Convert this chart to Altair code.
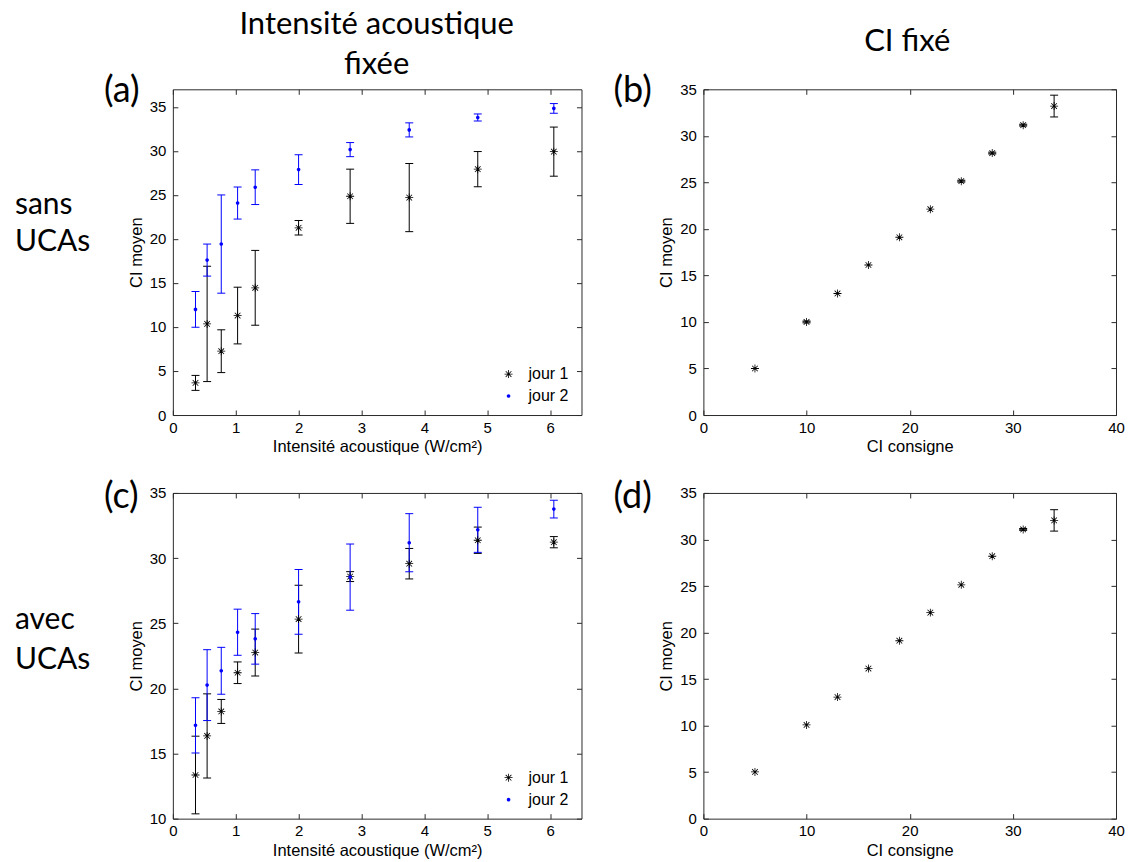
import math
import altair as alt
import pandas as pd

# ---------------- data ----------------
intensite = [0.36, 0.545, 0.77, 1.03, 1.31, 2.0, 2.82, 3.76, 4.85, 6.06]

a_j1_moy = [3.65, 10.35, 7.25, 11.3, 14.45, 21.27, 24.85, 24.7, 27.93, 29.92]
a_j1_err = [0.85, 6.55, 2.43, 3.22, 4.25, 0.82, 3.08, 3.87, 2.0, 2.79]
a_j2_moy = [12.0, 17.6, 19.42, 24.08, 25.88, 27.88, 30.15, 32.39, 33.8, 34.83]
a_j2_err = [2.03, 1.82, 5.58, 1.82, 1.97, 1.69, 0.8, 0.8, 0.4, 0.55]

c_j1_moy = [13.35, 16.35, 18.23, 21.2, 22.75, 25.32, 28.58, 29.57, 31.37, 31.22]
c_j1_err = [2.98, 3.23, 0.92, 0.83, 1.8, 2.6, 0.38, 1.17, 1.01, 0.43]
c_j2_moy = [17.16, 20.25, 21.35, 24.31, 23.8, 26.64, 28.54, 31.18, 32.17, 33.76]
c_j2_err = [2.12, 2.72, 1.8, 1.77, 1.94, 2.49, 2.54, 2.23, 1.73, 0.68]

consigne = [5, 10, 13, 16, 19, 22, 25, 28, 31, 34]
b_moy = [5.0, 10.0, 13.06, 16.12, 19.1, 22.12, 25.13, 28.15, 31.15, 33.2]
b_err = [0.0, 0.1, 0.0, 0.0, 0.0, 0.0, 0.1, 0.1, 0.1, 1.17]
d_moy = [5.02, 10.07, 13.07, 16.13, 19.12, 22.14, 25.13, 28.2, 31.08, 32.05]
d_err = [0.0, 0.0, 0.0, 0.0, 0.0, 0.0, 0.0, 0.0, 0.1, 1.15]

series = ["jour 1", "jour 2"]
x_ticks_int = [0, 1, 2, 3, 4, 5, 6]
x_ticks_ci = [0, 10, 20, 30, 40]
y_ticks_0 = [0, 5, 10, 15, 20, 25, 30, 35]
y_ticks_10 = [10, 15, 20, 25, 30, 35]

# ---------------- styles ----------------
BLACK = "#000000"
BLUE = "#0000ff"
FRAME = "#2a2a2a"
AX_FONT = "Liberation Sans"
TXT_FONT = "Lato"


def _star_path(t=0.1):
    plus = [(-1, -t), (-t, -t), (-t, -1), (t, -1), (t, -t), (1, -t),
            (1, t), (t, t), (t, 1), (-t, 1), (-t, t), (-1, t)]
    c = math.sqrt(0.5)
    rot = [((x - y) * c, (x + y) * c) for x, y in plus]

    def poly(pts):
        return "M" + "L".join(f"{x:.3f},{y:.3f}" for x, y in pts) + "Z"
    return poly(plus) + poly(rot)


STAR = _star_path()
DOT = "M0.45,0A0.45,0.45 0 1,1 -0.45,0A0.45,0.45 0 1,1 0.45,0Z"


def make_df(xs, moy, err, serie):
    return pd.DataFrame({
        "x": xs, "moy": moy,
        "lo": [m - e for m, e in zip(moy, err)],
        "hi": [m + e for m, e in zip(moy, err)],
        "err": err, "serie": serie,
    })


def x_axis(values, title, H):
    return alt.Axis(values=values, title=title, grid=True, gridDash=[5, H - 10, 5],
                    ticks=False, tickSize=0, domain=False, labelPadding=5,
                    titlePadding=4, labelFlush=False, labelOverlap=False)


def y_axis(values, W):
    return alt.Axis(values=values, title="CI moyen", grid=True, gridDash=[5, W - 10, 5],
                    ticks=False, tickSize=0, domain=False, labelPadding=7,
                    titlePadding=5, labelFlush=False, labelOverlap=False)


def text_layer(txt, x, y, size, align="left"):
    return alt.Chart(pd.DataFrame({"t": [txt]})).mark_text(
        font=TXT_FONT, fontSize=size, align=align, baseline="alphabetic",
        color=BLACK).encode(x=alt.value(x), y=alt.value(y), text="t:N")


def legend_def():
    return alt.Legend(title=None, orient="none", legendX=328, legendY=277,
                      labelFont=AX_FONT, labelFontSize=16, symbolSize=64,
                      labelOffset=12, rowPadding=6, padding=0,
                      symbolStrokeWidth=0)


def panel(dfs, colors, xdom, ydom, xvals, yvals, xtitle, W, H, with_legend, texts):
    xs = alt.Scale(domain=xdom, nice=False, zero=False)
    ys = alt.Scale(domain=ydom, nice=False, zero=False)
    xa = x_axis(xvals, xtitle, H)
    ya = y_axis(yvals, W)
    layers = []
    for df, col in zip(dfs, colors):
        eb = alt.Chart(df).transform_filter("datum.err > 0")
        layers.append(eb.mark_rule(color=col, strokeWidth=1).encode(
            x=alt.X("x:Q", scale=xs, axis=xa),
            y=alt.Y("lo:Q", scale=ys, axis=ya),
            y2="hi:Q"))
        for f in ["lo", "hi"]:
            layers.append(eb.mark_tick(color=col, orient="horizontal", size=8,
                                       thickness=1, opacity=1).encode(
                x=alt.X("x:Q", scale=xs, axis=xa),
                y=alt.Y(f + ":Q", scale=ys, axis=ya)))
    pts = pd.concat(dfs)
    if with_legend:
        color = alt.Color("serie:N", scale=alt.Scale(domain=series, range=[BLACK, BLUE]),
                          legend=legend_def())
        shape = alt.Shape("serie:N", scale=alt.Scale(domain=series, range=[STAR, DOT]),
                          legend=legend_def())
        layers.append(alt.Chart(pts).mark_point(filled=True, size=64, opacity=1,
                                                strokeWidth=0).encode(
            x=alt.X("x:Q", scale=xs, axis=xa),
            y=alt.Y("moy:Q", scale=ys, axis=ya),
            color=color, shape=shape))
    else:
        layers.append(alt.Chart(pts).mark_point(filled=True, size=64, opacity=1,
                                                strokeWidth=0, shape=STAR,
                                                color=BLACK).encode(
            x=alt.X("x:Q", scale=xs, axis=xa),
            y=alt.Y("moy:Q", scale=ys, axis=ya)))
    for t in texts:
        layers.append(text_layer(*t))
    return alt.layer(*layers).properties(width=W, height=H)


WA, WB, H = 409, 413, 326

pa = panel([make_df(intensite, a_j1_moy, a_j1_err, "jour 1"),
            make_df(intensite, a_j2_moy, a_j2_err, "jour 2")],
           [BLACK, BLUE], [0, 6.5], [0, 37], x_ticks_int, y_ticks_0,
           "Intensité acoustique (W/cm²)", WA, H, True,
           [("Intensité acoustique", 204, -55, 31, "center"),
            ("fixée", 204, -15, 31, "center"),
            ("(a)", -69, 13, 36),
            ("sans", -158, 125, 30),
            ("UCAs", -158, 162, 30)])

pb = panel([make_df(consigne, b_moy, b_err, "jour 1")], [BLACK],
           [0, 40], [0, 35], x_ticks_ci, y_ticks_0, "CI consigne", WB, H, False,
           [("CI fixé", 204, -38, 31, "center"),
            ("(b)", -90, 13, 36)])

pc = panel([make_df(intensite, c_j1_moy, c_j1_err, "jour 1"),
            make_df(intensite, c_j2_moy, c_j2_err, "jour 2")],
           [BLACK, BLUE], [0, 6.5], [10, 35], x_ticks_int, y_ticks_10,
           "Intensité acoustique (W/cm²)", WA, H, True,
           [("(c)", -69, 15, 36),
            ("avec", -158, 136, 30),
            ("UCAs", -158, 176, 30)])

pd_ = panel([make_df(consigne, d_moy, d_err, "jour 1")], [BLACK],
            [0, 40], [0, 35], x_ticks_ci, y_ticks_0, "CI consigne", WB, H, False,
            [("(d)", -90, 15, 36)])

chart = alt.concat(pa, pb, pc, pd_, columns=2,
                   spacing=alt.RowColnumber(row=78, column=122),
                   bounds="flush").resolve_scale(
    color="independent", shape="independent").properties(
    padding={"left": 6, "top": 0, "right": 0, "bottom": 0},
    background="white",
).configure_view(stroke=FRAME, strokeWidth=1).configure_axis(
    labelFont=AX_FONT, labelFontSize=15, labelColor=BLACK,
    titleFont=AX_FONT, titleFontSize=16.5, titleFontWeight="normal",
    titleColor=BLACK, gridColor=FRAME, gridOpacity=1, gridWidth=1,
)

chart.save("out.html", embed_options={"renderer": "svg", "actions": False})
